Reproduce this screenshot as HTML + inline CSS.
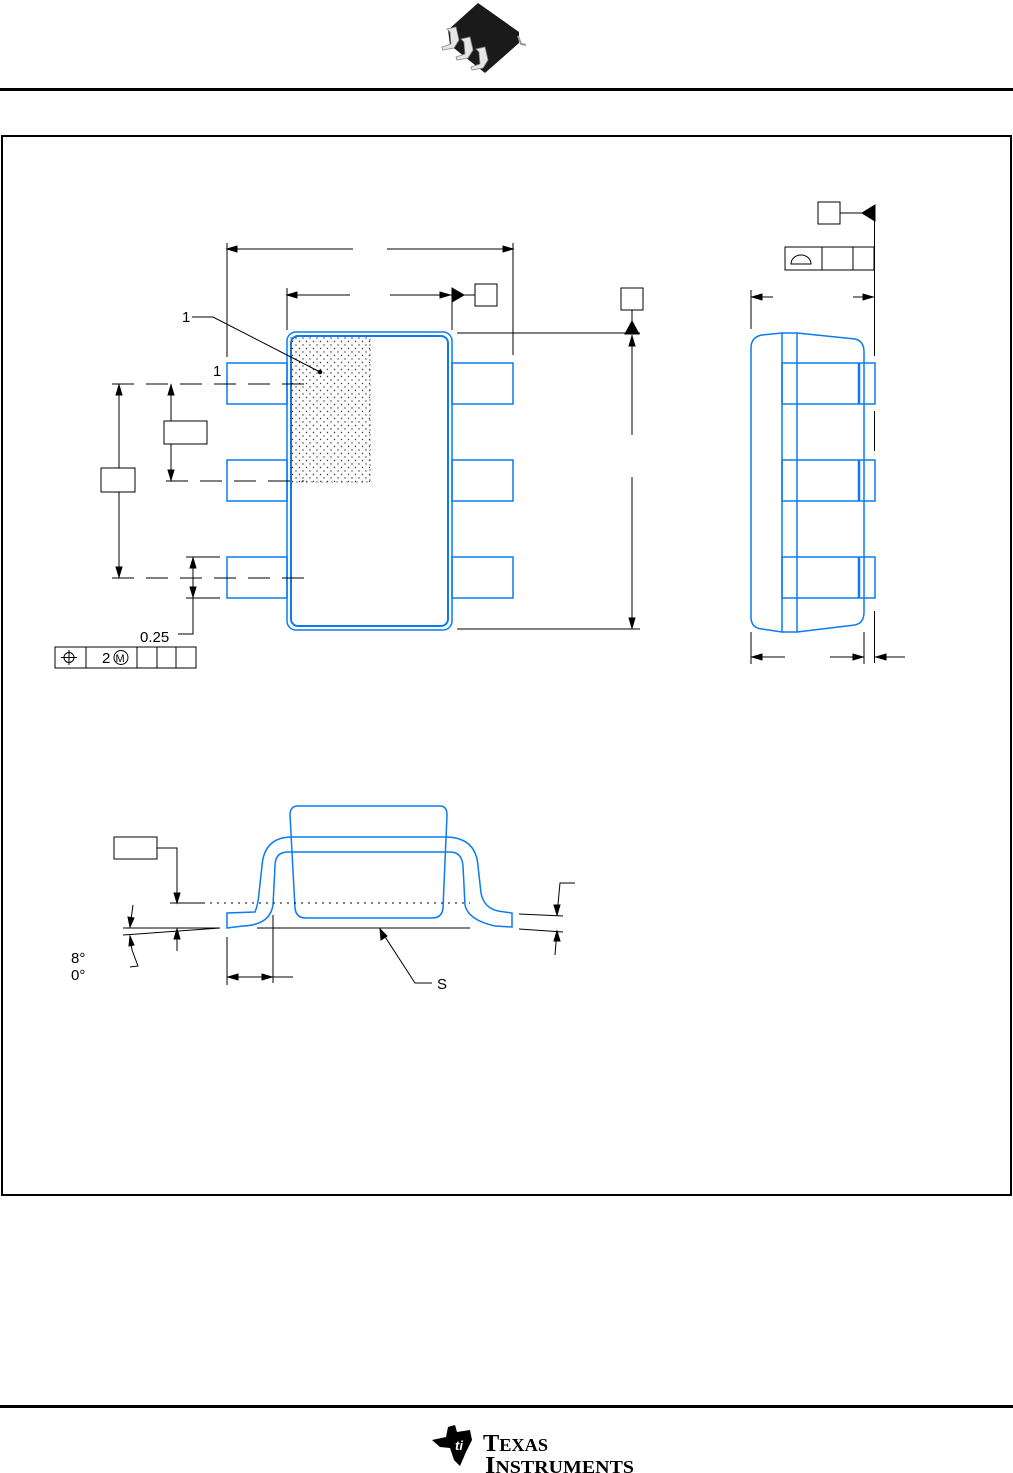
<!DOCTYPE html>
<html><head><meta charset="utf-8"><style>
html,body{margin:0;padding:0;background:#fff;}
svg{display:block;font-family:"Liberation Sans",sans-serif;}
</style></head><body>
<svg width="1013" height="1473" viewBox="0 0 1013 1473" xmlns="http://www.w3.org/2000/svg">
<defs>
<pattern id="dots" width="7" height="7" patternUnits="userSpaceOnUse"><circle cx="2" cy="2" r="0.7" fill="#333"/><circle cx="5.5" cy="5.5" r="0.7" fill="#333"/></pattern>
</defs>
<!-- header chip -->
<g>
<path d="M448,30 L478,3 L519,32 L519,43 L485,73 L450,45z" fill="#1a1a1a"/>
<path d="M518,36 L521,44 L526,45" fill="none" stroke="#999" stroke-width="2"/>
<path d="M447,29 L456,27 L459,40 L454,48 L443,50 L442,47 L451,44 L450,32z" fill="#e6e6e6" stroke="#888" stroke-width="0.8"/>
<path d="M461,39 L470,37 L473,50 L468,58 L457,60 L456,57 L465,54 L464,42z" fill="#e6e6e6" stroke="#888" stroke-width="0.8"/>
<path d="M476,49 L485,47 L488,60 L483,68 L472,70 L471,67 L480,64 L479,52z" fill="#e6e6e6" stroke="#888" stroke-width="0.8"/>
</g>
<rect x="0" y="88" width="1013" height="3" fill="#000"/>
<rect x="2" y="136" width="1009" height="1059" fill="none" stroke="#000" stroke-width="2"/>
<rect x="0" y="1405" width="1013" height="3" fill="#000"/>

<g fill="none" stroke="#0a7cf0" stroke-width="1.5">
<rect x="287" y="332" width="165" height="298" rx="9"/>
<rect x="291" y="336" width="157" height="290" rx="7" stroke-width="2"/>
<rect x="227" y="363" width="60" height="41"/><rect x="227" y="460" width="60" height="41"/><rect x="227" y="557" width="60" height="41"/>
<rect x="452" y="363" width="61" height="41"/><rect x="452" y="460" width="61" height="41"/><rect x="452" y="557" width="61" height="41"/>
<path d="M782,333 L762,335 Q751,337 751,348 L751,617 Q751,628 762,629 L782,632"/>
<path d="M797,333 L855,339 Q864,341 864,352 L864,612 Q864,623 855,625 L797,632"/>
<rect x="782" y="333" width="15" height="299"/>
<rect x="782" y="363" width="93" height="41"/><rect x="782" y="460" width="93" height="41"/><rect x="782" y="557" width="93" height="41"/>
<line x1="859" y1="363" x2="859" y2="404" stroke-width="2.5"/><line x1="859" y1="460" x2="859" y2="501" stroke-width="2.5"/><line x1="859" y1="557" x2="859" y2="598" stroke-width="2.5"/>
<path d="M298,806 L440,806 Q447,806 447,815 L443,908 Q442,918 432,918 L306,918 Q296,918 295,908 L290,815 Q290,806 298,806z"/>
<path d="M227,913 L255,912 Q258,905 259,893 L262,866 Q264,837 292,837 L445,837 Q476,837 478,866 L481,893 Q484,908 498,911 L512,913 L512,927 L495,926 Q468,920 465,905 L463,866 Q462,852 450,852 L288,852 Q275,852 275,866 L273,905 Q270,925 243,926 L227,928z"/>
</g>
<rect x="291" y="337" width="79" height="145" fill="url(#dots)"/>
<path d="M291,337 V482 H370 V337" fill="none" stroke="#555" stroke-width="0.8" stroke-dasharray="2,3"/>

<g fill="none" stroke="#000" stroke-width="1">
<line x1="227" y1="243" x2="227" y2="357"/><line x1="513" y1="243" x2="513" y2="355"/>
<line x1="227" y1="249" x2="353" y2="249"/>
<line x1="387" y1="249" x2="513" y2="249"/>
<path d="M513,249 L503,246 L503,252z M227,249 L237,246 L237,252z" fill="#000"/>
<line x1="287" y1="288" x2="287" y2="330"/><line x1="452" y1="288" x2="452" y2="330"/>
<path d="M287,295 L297,292 L297,298z" fill="#000"/>
<line x1="287" y1="295" x2="350" y2="295"/><line x1="390" y1="295" x2="475" y2="295"/>
<path d="M452,288 L464,295 L452,302z" fill="#000"/><path d="M450,295 L440,292 L440,298z" fill="#000"/>
<rect x="475" y="284" width="22" height="22"/>
<rect x="621" y="288" width="22" height="22"/>
<line x1="632" y1="310" x2="632" y2="322"/>
<path d="M625,334 L632,321 L639,334z" fill="#000"/>
<line x1="457" y1="333" x2="640" y2="333"/><line x1="457" y1="629" x2="640" y2="629"/>
<line x1="632" y1="335" x2="632" y2="435"/><line x1="632" y1="477" x2="632" y2="628"/>
<path d="M632,336 L629,346 L635,346z M632,628 L629,618 L635,618z" fill="#000"/>
<polyline points="192,317 213,317 320,372"/>
<circle cx="320" cy="372" r="1.8" fill="#000"/>
<line x1="112" y1="384" x2="304" y2="384" stroke-dasharray="22,12"/>
<line x1="166" y1="481" x2="304" y2="481" stroke-dasharray="22,12"/>
<line x1="112" y1="578" x2="304" y2="578" stroke-dasharray="22,12"/>
<line x1="119" y1="384" x2="119" y2="578"/>
<path d="M119,385 L116,395 L122,395z M119,577 L116,567 L122,567z" fill="#000"/>
<rect x="101" y="468" width="34" height="24" fill="#fff"/>
<line x1="171" y1="384" x2="171" y2="481"/>
<path d="M171,385 L168,395 L174,395z M171,480 L168,470 L174,470z" fill="#000"/>
<rect x="164" y="421" width="43" height="23" fill="#fff"/>
<line x1="186" y1="557" x2="220" y2="557"/><line x1="186" y1="598" x2="220" y2="598"/>
<polyline points="193,557 193,634 178,634"/>
<path d="M193,558 L190,568 L196,568z M193,597 L190,587 L196,587z" fill="#000"/>
<rect x="55" y="647" width="141" height="21"/>
<line x1="86" y1="647" x2="86" y2="668"/><line x1="137" y1="647" x2="137" y2="668"/><line x1="157" y1="647" x2="157" y2="668"/><line x1="176" y1="647" x2="176" y2="668"/>
<circle cx="69" cy="657.5" r="5"/><line x1="61" y1="657.5" x2="77" y2="657.5"/><line x1="69" y1="650" x2="69" y2="665"/>
<circle cx="121" cy="657.5" r="7"/>
<rect x="818" y="202" width="22" height="22"/>
<line x1="840" y1="213" x2="864" y2="213"/>
<path d="M862,213 L875,205 L875,221z" fill="#000"/>
<line x1="874.5" y1="207" x2="874.5" y2="356"/><line x1="874.5" y1="411" x2="874.5" y2="451"/><line x1="874.5" y1="611" x2="874.5" y2="663"/>
<rect x="785" y="247" width="89" height="23"/>
<line x1="822" y1="247" x2="822" y2="270"/><line x1="853" y1="247" x2="853" y2="270"/>
<path d="M791,264 A10,9 0 0 1 811,264 Z"/>
<line x1="751" y1="290" x2="751" y2="329"/>
<line x1="751" y1="297" x2="773" y2="297"/><line x1="853" y1="297" x2="874" y2="297"/>
<path d="M752,297 L762,294 L762,300z M873,297 L863,294 L863,300z" fill="#000"/>
<line x1="751" y1="632" x2="751" y2="664"/><line x1="864" y1="632" x2="864" y2="664"/>
<line x1="751" y1="657" x2="785" y2="657"/><line x1="830" y1="657" x2="864" y2="657"/><line x1="875" y1="657" x2="905" y2="657"/>
<path d="M752,657 L762,654 L762,660z M863,657 L853,654 L853,660z M876,657 L886,654 L886,660z" fill="#000"/>
<line x1="210" y1="903" x2="470" y2="903" stroke-dasharray="2,5"/>
<rect x="114" y="837" width="43" height="22"/>
<polyline points="157,848 177,848 177,902"/>
<path d="M177,903 L174,893 L180,893z" fill="#000"/>
<line x1="170" y1="903" x2="205" y2="903"/>
<line x1="257" y1="928" x2="470" y2="928"/>
<polyline points="380,929 415,983 432,983"/>
<path d="M380,929 L381,940 L387,936z" fill="#000"/>
<line x1="123" y1="928" x2="220" y2="928"/>
<line x1="123" y1="935" x2="220" y2="928"/>
<line x1="133" y1="905" x2="130" y2="927"/><path d="M130,927 L128,917 L134,918z" fill="#000"/>
<polyline points="130,936 132,950 138,966 130,967"/><path d="M130,936 L129,946 L134,945z" fill="#000"/>
<line x1="177" y1="929" x2="177" y2="951"/><path d="M177,929 L174,939 L180,939z" fill="#000"/>
<line x1="273" y1="915" x2="273" y2="983"/><line x1="227" y1="937" x2="227" y2="985"/>
<line x1="227" y1="977" x2="293" y2="977"/>
<path d="M228,977 L238,974 L238,980z M272,977 L262,974 L262,980z" fill="#000"/>
<line x1="519" y1="914" x2="563" y2="916"/><line x1="519" y1="929" x2="563" y2="932"/>
<polyline points="575,883 560,883 557,915"/><path d="M557,915 L554,905 L560,905z" fill="#000"/>
<line x1="555" y1="955" x2="557" y2="931"/><path d="M557,931 L554,941 L560,941z" fill="#000"/>
</g>

<g font-size="15" fill="#000">
<text x="182" y="322">1</text>
<text x="213" y="376">1</text>
<text x="140" y="642">0.25</text>
<text x="102" y="663">2</text>
<text x="115.5" y="662" font-size="11">M</text>
<text x="437" y="989">S</text>
<text x="71" y="963">8°</text>
<text x="71" y="980">0°</text>
</g>

<g>
<path d="M432,1440 L446,1437 L448,1427 L455,1425 L457,1432 L470,1430 L472,1440 L466,1452 L460,1466 L454,1460 L450,1448 L440,1447z" fill="#000"/>
<text x="455" y="1450" font-size="13" fill="#fff" font-style="italic" font-weight="bold">ti</text>
<text x="483" y="1451" font-family="Liberation Serif,serif" font-weight="bold" font-size="24" fill="#000" textLength="65" lengthAdjust="spacingAndGlyphs">T<tspan font-size="18">EXAS</tspan></text>
<text x="485" y="1473" font-family="Liberation Serif,serif" font-weight="bold" font-size="24" fill="#000" textLength="149" lengthAdjust="spacingAndGlyphs">I<tspan font-size="18">NSTRUMENTS</tspan></text>
</g>
</svg>
</body></html>
